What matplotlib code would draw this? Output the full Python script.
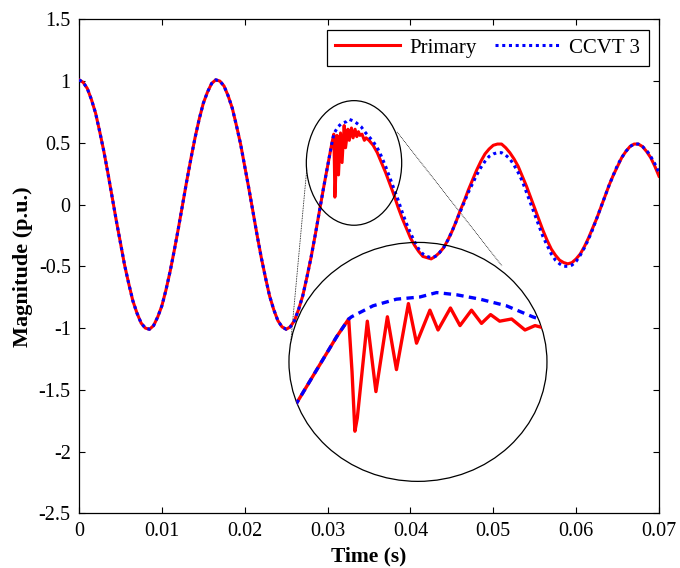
import matplotlib
matplotlib.use("Agg")
import numpy as np
import matplotlib.pyplot as plt
from matplotlib.patches import Ellipse

plt.rcParams['font.family'] = 'serif'
plt.rcParams['font.serif'] = ['Liberation Serif', 'DejaVu Serif']
plt.rcParams['axes.unicode_minus'] = False

# waveform before fault inception, identical for both signals (s, p.u.)
t_pre = [0.0, 0.0005, 0.001, 0.0015, 0.002, 0.0025, 0.003, 0.0035, 0.004, 0.0045,
         0.005, 0.0055, 0.006, 0.0065, 0.007, 0.0075, 0.008, 0.0085, 0.009, 0.0095,
         0.010, 0.0105, 0.011, 0.0115, 0.012, 0.0125, 0.013, 0.0135, 0.014, 0.0145,
         0.015, 0.0155, 0.016, 0.0165, 0.017, 0.0175, 0.018, 0.0185, 0.019, 0.0195,
         0.020, 0.0205, 0.021, 0.0215, 0.022, 0.0225, 0.023, 0.0235, 0.024, 0.0245,
         0.025, 0.0255, 0.026, 0.0265, 0.027, 0.0275, 0.028, 0.0285, 0.029, 0.0295,
         0.030, 0.0305]
v_pre = [1.01, 0.99, 0.94, 0.85, 0.74, 0.59, 0.43, 0.25, 0.06, -0.13,
         -0.31, -0.49, -0.64, -0.78, -0.88, -0.96, -1.00, -1.01, -0.98, -0.91,
         -0.82, -0.69, -0.54, -0.37, -0.19, 0.00, 0.19, 0.37, 0.54, 0.69,
         0.82, 0.91, 0.98, 1.01, 1.00, 0.96, 0.88, 0.78, 0.64, 0.49,
         0.31, 0.13, -0.06, -0.25, -0.43, -0.59, -0.74, -0.85, -0.94, -0.99,
         -1.01, -0.99, -0.94, -0.85, -0.74, -0.59, -0.43, -0.25, -0.06, 0.13,
         0.31, 0.49]

# high frequency transient right after the fault
t_primary_fault = [0.03075, 0.03082, 0.03088, 0.03093, 0.03114, 0.03132, 0.03156,
                   0.03175, 0.03200, 0.03217, 0.03245, 0.03262, 0.03288, 0.03308,
                   0.03332, 0.03353, 0.03372, 0.03391, 0.03416, 0.03444, 0.03465]
v_primary_fault = [0.57, 0.33, 0.06, 0.12, 0.56, 0.24, 0.58,
                   0.34, 0.64, 0.46, 0.61, 0.52, 0.62, 0.54,
                   0.61, 0.55, 0.59, 0.56, 0.57, 0.52, 0.54]
t_ccvt_fault = [0.03075, 0.03081, 0.03126, 0.03175, 0.03224, 0.03259, 0.03301,
                0.03350, 0.03405, 0.03460]
v_ccvt_fault = [0.57, 0.58, 0.63, 0.66, 0.67, 0.69, 0.68,
                0.66, 0.63, 0.58]

# post-fault steady part
t_post = [0.0350, 0.0355, 0.036, 0.0365, 0.037, 0.0375, 0.038, 0.0385, 0.039, 0.0395,
          0.040, 0.0405, 0.041, 0.0415, 0.042, 0.0425, 0.043, 0.0435, 0.044, 0.0445,
          0.045, 0.0455, 0.046, 0.0465, 0.047, 0.0475, 0.048, 0.0485, 0.049, 0.0495,
          0.050, 0.0505, 0.051, 0.0515, 0.052, 0.0525, 0.053, 0.0535, 0.054, 0.0545,
          0.055, 0.0555, 0.056, 0.0565, 0.057, 0.0575, 0.058, 0.0585, 0.059, 0.0595,
          0.060, 0.0605, 0.061, 0.0615, 0.062, 0.0625, 0.063, 0.0635, 0.064, 0.0645,
          0.065, 0.0655, 0.066, 0.0665, 0.067, 0.0675, 0.068, 0.0685, 0.069, 0.0695,
          0.070]
v_primary_post = [0.52, 0.48, 0.42, 0.34, 0.26, 0.17, 0.08, -0.02, -0.11, -0.19,
                  -0.27, -0.33, -0.38, -0.42, -0.43, -0.44, -0.42, -0.39, -0.35, -0.29,
                  -0.22, -0.14, -0.05, 0.03, 0.12, 0.20, 0.28, 0.35, 0.41, 0.45,
                  0.48, 0.49, 0.49, 0.46, 0.42, 0.37, 0.31, 0.23, 0.15, 0.06,
                  -0.03, -0.12, -0.21, -0.29, -0.36, -0.41, -0.45, -0.47, -0.48, -0.47,
                  -0.44, -0.40, -0.34, -0.27, -0.19, -0.11, -0.02, 0.07, 0.16, 0.24,
                  0.31, 0.38, 0.43, 0.47, 0.49, 0.49, 0.47, 0.43, 0.38, 0.31,
                  0.23]
v_ccvt_post = [0.55, 0.51, 0.46, 0.39, 0.31, 0.22, 0.13, 0.04, -0.06, -0.15,
               -0.23, -0.30, -0.36, -0.40, -0.42, -0.43, -0.42, -0.39, -0.35, -0.29,
               -0.22, -0.14, -0.06, 0.02, 0.10, 0.17, 0.24, 0.30, 0.35, 0.39,
               0.41, 0.42, 0.42, 0.40, 0.37, 0.32, 0.26, 0.19, 0.10, 0.01,
               -0.08, -0.17, -0.26, -0.33, -0.40, -0.45, -0.48, -0.50, -0.50, -0.49,
               -0.46, -0.41, -0.35, -0.28, -0.20, -0.11, -0.02, 0.07, 0.16, 0.24,
               0.32, 0.38, 0.43, 0.47, 0.49, 0.49, 0.47, 0.44, 0.39, 0.33,
               0.26]

x_ticks = [0, 0.01, 0.02, 0.03, 0.04, 0.05, 0.06, 0.07]
y_ticks = [-2.5, -2, -1.5, -1, -0.5, 0, 0.5, 1, 1.5]

t_primary = np.array(t_pre + t_primary_fault + t_post)
v_primary = np.array(v_pre + v_primary_fault + v_primary_post)
t_ccvt = np.array(t_pre + t_ccvt_fault + t_post)
v_ccvt = np.array(v_pre + v_ccvt_fault + v_ccvt_post)

fig = plt.figure(figsize=(6.8, 5.68), dpi=100)
ax = fig.add_axes([0.1162, 0.0963, 0.8529, 0.8697])

ax.plot(t_primary, v_primary, color='red', lw=2.2, label='Primary', zorder=3)
ax.plot(t_ccvt, v_ccvt, color='blue', lw=2.2, linestyle=(0, (1, 1.2)),
        label='CCVT 3', zorder=4)

ax.set_xlim(0, 0.07)
ax.set_ylim(-2.5, 1.5)
ax.set_xticks(x_ticks)
ax.set_xticklabels(['%g' % x for x in x_ticks])
ax.set_yticks(y_ticks)
ax.set_yticklabels(['%g' % y for y in y_ticks])
ax.tick_params(direction='in', length=4, width=0.8, top=True, right=True,
               labelsize=14.5, pad=6)
for sp in ax.spines.values():
    sp.set_linewidth(0.9)

ax.set_xlabel('Time (s)', fontsize=15.5, fontweight='bold', labelpad=4)
ax.set_ylabel('Magnitude (p.u.)', fontsize=16, fontweight='bold', labelpad=4)

leg = ax.legend(loc='upper right', ncol=2, fontsize=15, frameon=True,
                fancybox=False, edgecolor='black', framealpha=1,
                handlelength=3.1, handletextpad=0.45, columnspacing=0.9,
                borderpad=0.4, borderaxespad=0.5)
leg.get_frame().set_linewidth(0.9)

# callout: small ring around the fault, big ring holding the magnified view
small_c, small_w, small_h = (0.03319, 0.337), 0.01151, 1.009
big_c, big_w, big_h = (0.04091, -1.274), 0.03114, 1.935
ax.add_patch(Ellipse(small_c, small_w, small_h, fill=False, color='black',
                     lw=0.9, zorder=5))
ax.plot([0.02748, 0.02558], [0.280, -1.096], color='black', lw=0.6,
        linestyle=(0, (1, 1)), zorder=2)
ax.plot([0.03838, 0.05105], [0.588, -0.497], color='black', lw=0.6,
        linestyle=(0, (1, 1)), zorder=2)

ax_in = ax.inset_axes([big_c[0] - big_w / 2, big_c[1] - big_h / 2, big_w, big_h],
                      transform=ax.transData)
ax_in.set_xlim(0.0295, 0.0349)
ax_in.set_ylim(-0.168, 0.918)
ax_in.axis('off')
ax_in.patch.set_alpha(0)
ring = Ellipse((0.5, 0.5), 1, 1, transform=ax_in.transAxes, fill=False,
               edgecolor='black', lw=0.9, clip_on=False)
ax_in.add_patch(ring)
l1, = ax_in.plot(t_primary, v_primary, color='red', lw=2.4)
l2, = ax_in.plot(t_ccvt, v_ccvt, color='blue', lw=2.4, linestyle=(0, (2.2, 1.6)))
for ln in (l1, l2):
    ln.set_clip_path(ring)

fig.savefig('out.png', dpi=100)
